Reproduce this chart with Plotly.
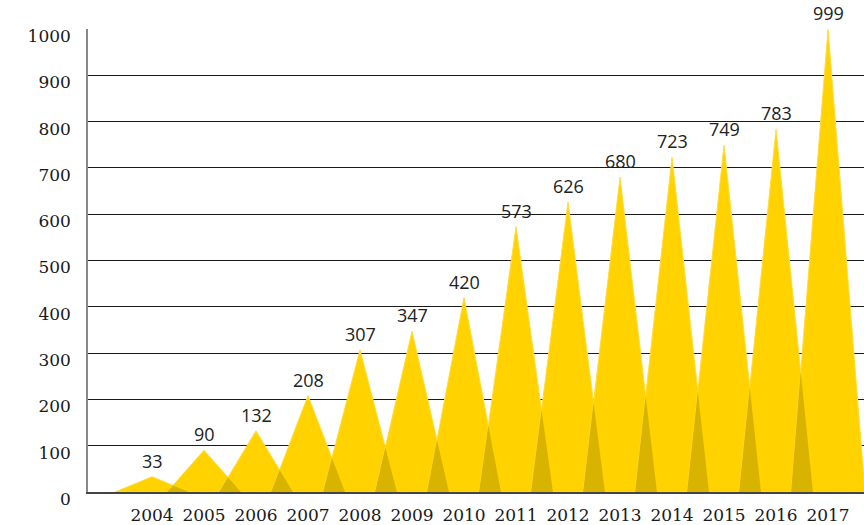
import plotly.graph_objects as go

# Yearly totals shown as overlapping triangular peaks
years = [2004, 2005, 2006, 2007, 2008, 2009, 2010,
         2011, 2012, 2013, 2014, 2015, 2016, 2017]
counts = [33, 90, 132, 208, 307, 347, 420,
          573, 626, 680, 723, 749, 783, 999]
y_ticks = [0, 100, 200, 300, 400, 500, 600, 700, 800, 900, 1000]
x_labels = [str(y) for y in years]

HALF = 0.71            # half-width of each peak, in years
GOLD = "#FFD200"
GOLD_DARK = "#D8B400"
TEXT = "#1a1a1a"
SERIF = "DejaVu Serif"
SANS = "Open Sans"

fig = go.Figure()

# one filled triangle per year
for yr, n in zip(years, counts):
    fig.add_trace(go.Scatter(
        x=[yr - HALF, yr, yr + HALF, yr - HALF],
        y=[0, n, 0, 0],
        mode="lines", fill="toself", fillcolor=GOLD,
        line=dict(color="#FFDC3C", width=1),
        hoverinfo="skip", showlegend=False,
    ))

# darker region where neighbouring peaks overlap
for (x0, n0), (x1, n1) in zip(zip(years, counts), zip(years[1:], counts[1:])):
    right0 = x0 + HALF
    left1 = x1 - HALF
    if left1 >= right0:
        continue
    xi = (n0 * right0 + n1 * left1) / (n0 + n1)
    yi = n0 * (right0 - xi) / HALF
    fig.add_trace(go.Scatter(
        x=[left1, xi, right0, left1],
        y=[0, yi, 0, 0],
        mode="none", fill="toself", fillcolor=GOLD_DARK,
        hoverinfo="skip", showlegend=False,
    ))

# value labels above each peak
for yr, n in zip(years, counts):
    fig.add_annotation(
        x=yr, y=n, text=str(n), showarrow=False,
        yanchor="bottom", xanchor="center", yshift=2,
        font=dict(family=SANS, size=18, color="#222222"),
    )

fig.update_layout(
    width=864, height=525,
    margin=dict(l=88, r=0, t=29, b=31),
    paper_bgcolor="white", plot_bgcolor="white",
    showlegend=False,
)

fig.update_xaxes(
    range=[2002.769, 2017.692],
    tickmode="array", tickvals=years, ticktext=x_labels,
    showgrid=False, zeroline=False,
    showline=True, linecolor="#444444", linewidth=1.5,
    ticks="", ticklabelstandoff=7,
    tickfont=dict(family=SERIF, size=17, color=TEXT),
)

fig.update_yaxes(
    range=[0, 1000],
    tickmode="array", tickvals=y_ticks,
    showgrid=True, gridcolor="#1a1a1a", gridwidth=1,
    zeroline=False,
    showline=True, linecolor="#888888", linewidth=1.5,
    ticks="", ticklabelstandoff=12, ticklabelshift=7,
    tickfont=dict(family=SERIF, size=17, color=TEXT),
)

fig.write_html("out.html")
